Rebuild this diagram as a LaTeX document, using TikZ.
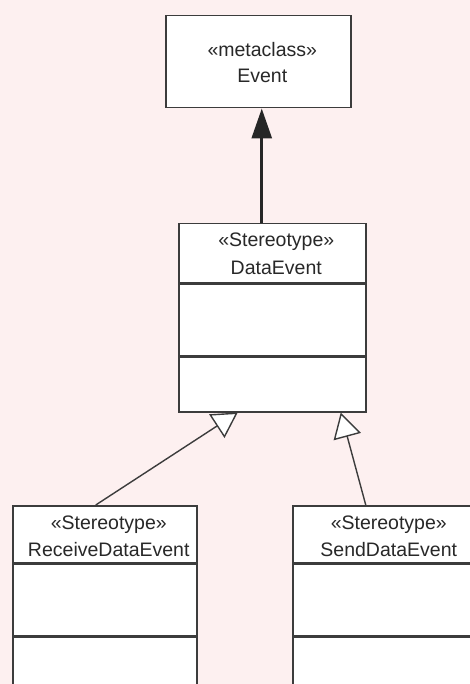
\documentclass[tikz,border=0pt]{standalone}
\usepackage{fontspec}
\setmainfont{Liberation Sans}
\usetikzlibrary{arrows.meta,calc,backgrounds}

\definecolor{canvas}{RGB}{253,240,240}
\definecolor{edge}{RGB}{60,60,60}
\definecolor{ink}{RGB}{40,40,40}

\tikzset{
  compart/.style={draw=edge, line width=1.5pt, fill=white, inner sep=0pt,
                  anchor=north west},
  txt/.style={anchor=base, inner sep=0pt, text=ink,
              font=\fontsize{19.5}{26}\selectfont},
  instanceof/.style={line width=3pt, draw=black!85,
                     -{Triangle[length=30pt,width=20pt]}},
  generalize/.style={line width=1.4pt, draw=edge,
                     -{Triangle[length=25pt,width=28pt,fill=white]}},
}

\begin{document}
\begin{tikzpicture}[x=1pt, y=-1pt]
  \useasboundingbox (0,0) rectangle (470,684);

  % metaclass
  \node[compart, minimum width=185pt, minimum height=92pt] (ev) at (165,15) {};
  \node[txt] (ev-st) at ($(ev.north)+(4,42)$) {«metaclass»};
  \node[txt] (ev-nm) at ($(ev.north)+(4,68)$) {Event};

  % DataEvent stereotype
  \node[compart, minimum width=187pt, minimum height=59pt] (de-h) at (178,223) {};
  \node[compart, minimum width=187pt, minimum height=71pt] (de-a) at (de-h.south west) {};
  \node[compart, minimum width=187pt, minimum height=55pt] (de-o) at (de-a.south west) {};
  \node[txt] (de-st) at ($(de-h.north)+(4,24)$) {«Stereotype»};
  \node[txt] (de-nm) at ($(de-h.north)+(4,51)$) {DataEvent};

  % ReceiveDataEvent stereotype
  \node[compart, minimum width=184pt, minimum height=57pt] (rd-h) at (12,505) {};
  \node[compart, minimum width=184pt, minimum height=71pt] (rd-a) at (rd-h.south west) {};
  \node[compart, minimum width=184pt, minimum height=55pt] (rd-o) at (rd-a.south west) {};
  \node[txt] (rd-st) at ($(rd-h.north)+(4,24)$) {«Stereotype»};
  \node[txt] (rd-nm) at ($(rd-h.north)+(4,51)$) {ReceiveDataEvent};

  % SendDataEvent stereotype
  \node[compart, minimum width=184pt, minimum height=57pt] (sd-h) at (292,505) {};
  \node[compart, minimum width=184pt, minimum height=71pt] (sd-a) at (sd-h.south west) {};
  \node[compart, minimum width=184pt, minimum height=55pt] (sd-o) at (sd-a.south west) {};
  \node[txt] (sd-st) at ($(sd-h.north)+(4,24)$) {«Stereotype»};
  \node[txt] (sd-nm) at ($(sd-h.north)+(4,51)$) {SendDataEvent};

  \begin{pgfonlayer}{background}
    \fill[canvas] (0,0) rectangle (470,684);
    % extension of the metaclass
    \draw[instanceof] ($(de-h.north)+(-10.5,0)$) -- ($(ev.south)+(3.5,0)$);
    % generalizations
    \draw[generalize] ($(rd-h.north)+(-9,0)$) -- ($(de-o.south)+(-34.5,0)$);
    \draw[generalize] ($(sd-h.north)+(-19,0)$) -- ($(de-o.south)+(68.5,0)$);
  \end{pgfonlayer}
\end{tikzpicture}
\end{document}
